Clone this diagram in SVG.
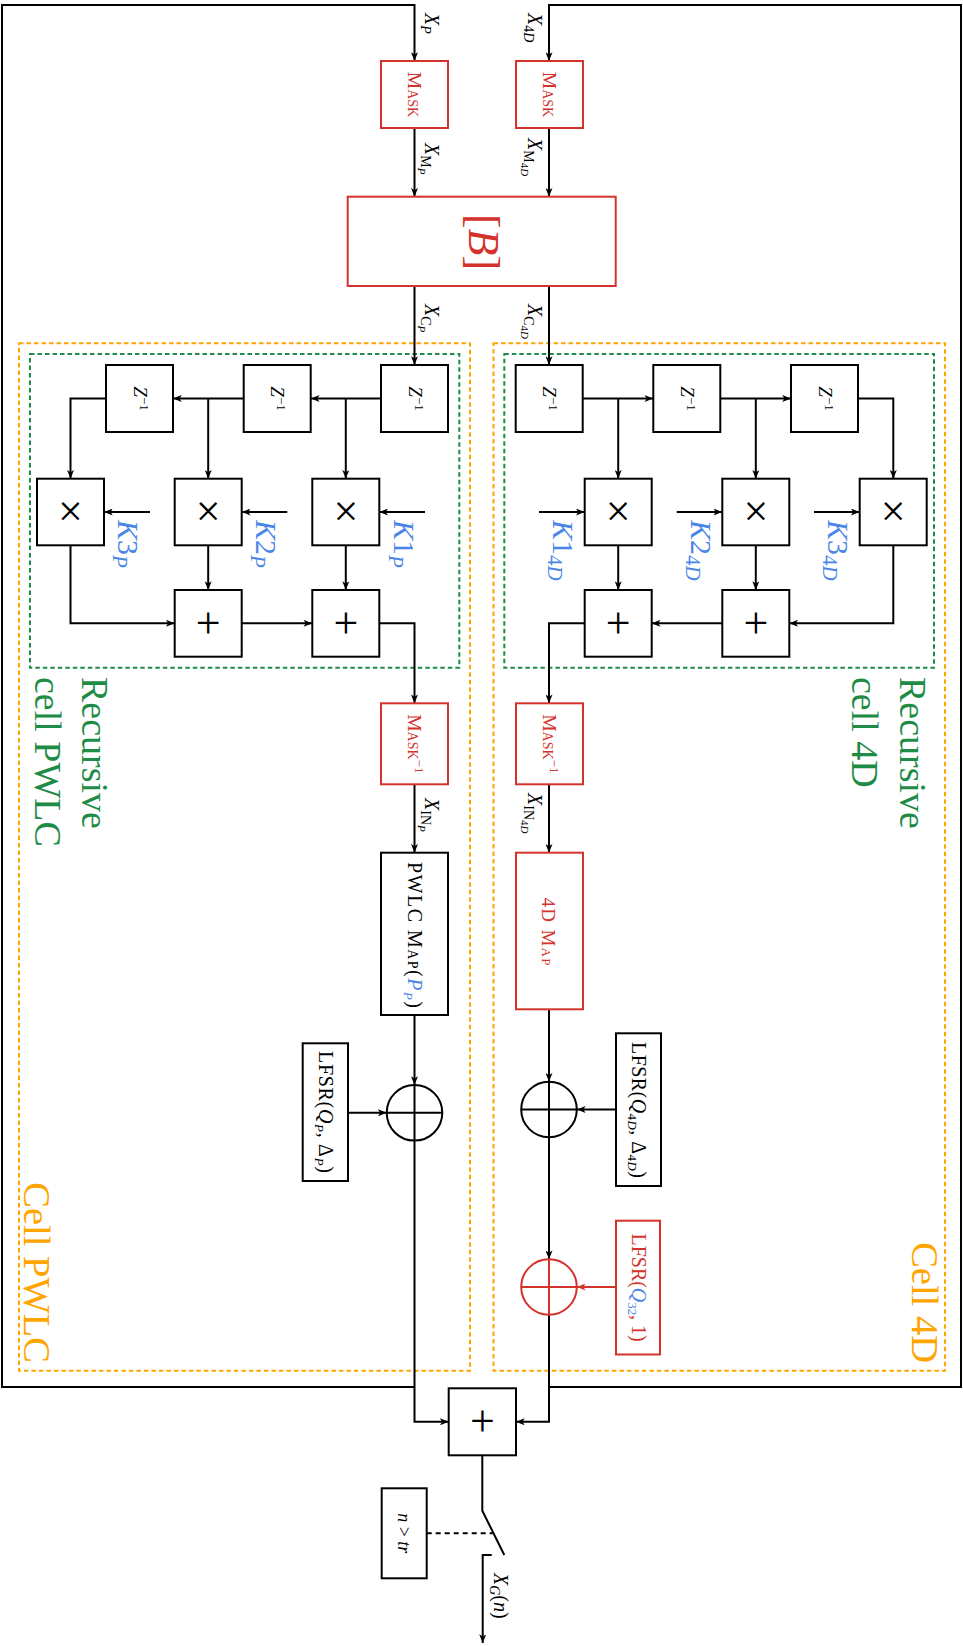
<svg xmlns="http://www.w3.org/2000/svg" width="963" height="1646" viewBox="0 0 963 1646">
<defs>
<marker id="a" viewBox="0 0 10 8" refX="10" refY="4" markerWidth="9" markerHeight="7" orient="auto" markerUnits="userSpaceOnUse"><path d="M0,0 L10,4 L0,8 L2.5,4 z" fill="#000"/></marker>
<marker id="ar" viewBox="0 0 10 8" refX="10" refY="4" markerWidth="9" markerHeight="7" orient="auto" markerUnits="userSpaceOnUse"><path d="M0,0 L10,4 L0,8 L2.5,4 z" fill="#d4322c"/></marker>
</defs>
<style>
text{font-family:"Liberation Serif","Times New Roman",serif;fill:#000}
.bx{fill:#fff;stroke:#000;stroke-width:2}
.rb{fill:#fff;stroke:#d4322c;stroke-width:2}
.ln{fill:none;stroke:#000;stroke-width:2}
.la{fill:none;stroke:#000;stroke-width:2;marker-end:url(#a)}
.lr{fill:none;stroke:#d4322c;stroke-width:2;marker-end:url(#ar)}
.od{fill:none;stroke:#ffa500;stroke-width:2;stroke-dasharray:4.5 3}
.gd{fill:none;stroke:#1e8c46;stroke-width:2;stroke-dasharray:4.5 3}
.it{font-style:italic}
.up{font-style:normal}
.sc{font-variant:small-caps}
.red{fill:#d4322c}
.blue{fill:#4a86e8}
.grn{fill:#1e8c46}
.org{fill:#ffa500}
.op{font-size:44px}
.xc{stroke:#000;stroke-width:2;fill:none}
.xr{stroke:#d4322c;stroke-width:2;fill:none}
.lb{font-size:20px;font-style:italic}
</style>

<g id="cell-pwlc-frame">
<rect class="od" x="19" y="343.3" width="451" height="1027.4"/>
<text class="org" font-size="38.5" text-anchor="end" transform="translate(24,1363) rotate(90)">Cell PWLC</text>
</g>
<g id="cell-4d-frame">
<rect class="od" x="493.5" y="343.3" width="451.5" height="1027.4"/>
<text class="org" font-size="38.5" text-anchor="end" transform="translate(912,1363) rotate(90)">Cell 4D</text>
</g>
<g id="recursive-pwlc-frame">
<rect class="gd" x="30" y="354" width="429.3" height="313.7"/>
<text class="grn" font-size="38" transform="translate(82,677) rotate(90)">Recursive</text>
<text class="grn" font-size="38" transform="translate(35,677) rotate(90)">cell PWLC</text>
</g>
<g id="recursive-4d-frame">
<rect class="gd" x="504.3" y="354" width="429.7" height="313.7"/>
<text class="grn" font-size="38" transform="translate(900,677) rotate(90)">Recursive</text>
<text class="grn" font-size="38" transform="translate(852,677) rotate(90)">cell 4D</text>
</g>

<g id="connectors">
<path class="la" d="M414.5,1387 H2 V5 H414.5 V61"/>
<path class="la" d="M549,1387 H961 V5 H549 V61"/>
<path class="la" d="M414.5,128 V196.7"/>
<path class="la" d="M549,128 V196.7"/>
<path class="la" d="M414.5,286 V365"/>
<path class="la" d="M549,286 V365"/>
<path class="la" d="M381,398.5 H310.7"/>
<path class="la" d="M345.8,398.5 V478.7"/>
<path class="la" d="M243.7,398.5 H173"/>
<path class="la" d="M208.2,398.5 V478.7"/>
<path class="la" d="M106,398.5 H70.5 V478.7"/>
<path class="la" d="M150,512 H104"/>
<path class="la" d="M287.3,512 H241.7"/>
<path class="la" d="M425,512 H379.3"/>
<path class="la" d="M70.5,545.3 V623.3 H174.7"/>
<path class="la" d="M208.2,545.3 V590"/>
<path class="la" d="M345.8,545.3 V590"/>
<path class="la" d="M241.7,623.3 H312.3"/>
<path class="la" d="M379.3,623.3 H414.5 V703.3"/>
<path class="la" d="M582.7,398.5 H653.3"/>
<path class="la" d="M618.2,398.5 V478.7"/>
<path class="la" d="M720.3,398.5 H791"/>
<path class="la" d="M755.8,398.5 V478.7"/>
<path class="la" d="M858,398.5 H893.3 V478.7"/>
<path class="la" d="M539,512 H584.7"/>
<path class="la" d="M676.7,512 H722.3"/>
<path class="la" d="M814,512 H859.7"/>
<path class="la" d="M893.3,545.3 V623.3 H789.3"/>
<path class="la" d="M618.2,545.3 V590"/>
<path class="la" d="M755.8,545.3 V590"/>
<path class="la" d="M722.3,623.3 H651.7"/>
<path class="la" d="M584.7,623.3 H549 V703.3"/>
<path class="la" d="M414.5,784.3 V852.7"/>
<path class="la" d="M549,784.3 V852.7"/>
<path class="la" d="M414.5,1015 V1085"/>
<path class="la" d="M549,1009.3 V1081.7"/>
<path class="la" d="M348,1112.8 H386.7"/>
<path class="la" d="M616,1109.5 H576.8"/>
<path class="la" d="M549,1137.3 V1259.2"/>
<path class="lr" d="M616,1287 H576.8"/>
<path class="la" d="M414.5,1140.6 V1421.8 H448.7"/>
<path class="la" d="M549,1314.8 V1421.8 H516"/>
<path class="ln" d="M482.3,1455.3 V1510.7 L504.3,1555"/>
<path class="la" d="M491.7,1555 H482.7 V1643"/>
<path class="ln" d="M426.7,1533.3 H492.7" stroke-dasharray="5 4"/>
</g>

<g id="labels">
<text class="lb" transform="translate(425,13) rotate(90)">X<tspan font-size="14" dy="4">P</tspan></text>
<text class="lb" transform="translate(528,13) rotate(90)">X<tspan font-size="14" dy="4" class="up">4</tspan><tspan font-size="14">D</tspan></text>
<text class="lb" transform="translate(425,143) rotate(90)">X<tspan font-size="14" dy="4" class="up">M</tspan><tspan font-size="11" dy="3">P</tspan></text>
<text class="lb" transform="translate(528,138) rotate(90)">X<tspan font-size="14" dy="4" class="up">M</tspan><tspan font-size="11" dy="3" class="up">4</tspan><tspan font-size="11">D</tspan></text>
<text class="lb" transform="translate(425,304) rotate(90)">X<tspan font-size="14" dy="4" class="up">C</tspan><tspan font-size="11" dy="3">P</tspan></text>
<text class="lb" transform="translate(528,304) rotate(90)">X<tspan font-size="14" dy="4" class="up">C</tspan><tspan font-size="11" dy="3" class="up">4</tspan><tspan font-size="11">D</tspan></text>
<text class="lb" transform="translate(425,798) rotate(90)">X<tspan font-size="14" dy="4" class="up">IN</tspan><tspan font-size="11" dy="3">P</tspan></text>
<text class="lb" transform="translate(528,793) rotate(90)">X<tspan font-size="14" dy="4" class="up">IN</tspan><tspan font-size="11" dy="3" class="up">4</tspan><tspan font-size="11">D</tspan></text>
<text class="lb" transform="translate(494,1573) rotate(90)">X<tspan font-size="14" dy="4">G</tspan><tspan dy="-4" class="up">(</tspan>n<tspan class="up">)</tspan></text>
</g>

<g id="mask-p"><rect class="rb" x="381" y="61" width="67" height="67"/>
<text class="red sc" font-size="19.5" text-anchor="middle" transform="translate(408,94.5) rotate(90)">Mask</text></g>
<g id="mask-4d"><rect class="rb" x="516" y="61" width="67" height="67"/>
<text class="red sc" font-size="19.5" text-anchor="middle" transform="translate(543,94.5) rotate(90)">Mask</text></g>

<g id="matrix-b"><rect class="rb" x="347.7" y="196.7" width="268" height="89.3"/>
<text class="red" font-size="44" text-anchor="middle" transform="translate(469,242) rotate(90)">[<tspan class="it">B</tspan>]</text></g>

<g id="zp1"><rect class="bx" x="381" y="365" width="67" height="67"/><text text-anchor="middle" transform="translate(408.5,398.5) rotate(90)"><tspan class="it" font-size="19">Z</tspan><tspan font-size="13" dy="-6">−1</tspan></text></g>
<g id="zp2"><rect class="bx" x="243.7" y="365" width="67" height="67"/><text text-anchor="middle" transform="translate(271.2,398.5) rotate(90)"><tspan class="it" font-size="19">Z</tspan><tspan font-size="13" dy="-6">−1</tspan></text></g>
<g id="zp3"><rect class="bx" x="106" y="365" width="67" height="67"/><text text-anchor="middle" transform="translate(133.5,398.5) rotate(90)"><tspan class="it" font-size="19">Z</tspan><tspan font-size="13" dy="-6">−1</tspan></text></g>
<g id="mp1"><rect class="bx" x="312.3" y="478.7" width="67" height="66.6"/><text class="op" text-anchor="middle" x="345.8" y="526">×</text></g>
<g id="mp2"><rect class="bx" x="174.7" y="478.7" width="67" height="66.6"/><text class="op" text-anchor="middle" x="208.2" y="526">×</text></g>
<g id="mp3"><rect class="bx" x="37" y="478.7" width="67" height="66.6"/><text class="op" text-anchor="middle" x="70.5" y="526">×</text></g>
<g id="ap1"><rect class="bx" x="312.3" y="590" width="67" height="66.7"/><text class="op" text-anchor="middle" x="345.8" y="637.5">+</text></g>
<g id="ap2"><rect class="bx" x="174.7" y="590" width="67" height="66.7"/><text class="op" text-anchor="middle" x="208.2" y="637.5">+</text></g>
<g id="k-labels-p">
<text class="blue it" font-size="30" transform="translate(118,520) rotate(90)">K<tspan class="up">3</tspan><tspan font-size="21" dy="5">P</tspan></text>
<text class="blue it" font-size="30" transform="translate(256,520) rotate(90)">K<tspan class="up">2</tspan><tspan font-size="21" dy="5">P</tspan></text>
<text class="blue it" font-size="30" transform="translate(394,520) rotate(90)">K<tspan class="up">1</tspan><tspan font-size="21" dy="5">P</tspan></text>
</g>

<g id="zd1"><rect class="bx" x="515.7" y="365" width="67" height="67"/><text text-anchor="middle" transform="translate(543.2,398.5) rotate(90)"><tspan class="it" font-size="19">Z</tspan><tspan font-size="13" dy="-6">−1</tspan></text></g>
<g id="zd2"><rect class="bx" x="653.3" y="365" width="67" height="67"/><text text-anchor="middle" transform="translate(680.8,398.5) rotate(90)"><tspan class="it" font-size="19">Z</tspan><tspan font-size="13" dy="-6">−1</tspan></text></g>
<g id="zd3"><rect class="bx" x="791" y="365" width="67" height="67"/><text text-anchor="middle" transform="translate(818.5,398.5) rotate(90)"><tspan class="it" font-size="19">Z</tspan><tspan font-size="13" dy="-6">−1</tspan></text></g>
<g id="md1"><rect class="bx" x="584.7" y="478.7" width="67" height="66.6"/><text class="op" text-anchor="middle" x="618.2" y="526">×</text></g>
<g id="md2"><rect class="bx" x="722.3" y="478.7" width="67" height="66.6"/><text class="op" text-anchor="middle" x="755.8" y="526">×</text></g>
<g id="md3"><rect class="bx" x="859.7" y="478.7" width="67" height="66.6"/><text class="op" text-anchor="middle" x="893.2" y="526">×</text></g>
<g id="ad1"><rect class="bx" x="584.7" y="590" width="67" height="66.7"/><text class="op" text-anchor="middle" x="618.2" y="637.5">+</text></g>
<g id="ad2"><rect class="bx" x="722.3" y="590" width="67" height="66.7"/><text class="op" text-anchor="middle" x="755.8" y="637.5">+</text></g>
<g id="k-labels-4d">
<text class="blue it" font-size="30" transform="translate(553,520) rotate(90)">K<tspan class="up">1</tspan><tspan font-size="21" dy="5" class="up">4</tspan><tspan font-size="21">D</tspan></text>
<text class="blue it" font-size="30" transform="translate(691,520) rotate(90)">K<tspan class="up">2</tspan><tspan font-size="21" dy="5" class="up">4</tspan><tspan font-size="21">D</tspan></text>
<text class="blue it" font-size="30" transform="translate(828,520) rotate(90)">K<tspan class="up">3</tspan><tspan font-size="21" dy="5" class="up">4</tspan><tspan font-size="21">D</tspan></text>
</g>

<g id="mask-inv-p"><rect class="rb" x="381" y="703.3" width="67" height="81"/>
<text class="red" font-size="19.5" text-anchor="middle" transform="translate(407.5,743.8) rotate(90)"><tspan class="sc">Mask</tspan><tspan font-size="13" dy="-7">−1</tspan></text></g>
<g id="mask-inv-4d"><rect class="rb" x="516" y="703.3" width="67" height="81"/>
<text class="red" font-size="19.5" text-anchor="middle" transform="translate(542.5,743.8) rotate(90)"><tspan class="sc">Mask</tspan><tspan font-size="13" dy="-7">−1</tspan></text></g>

<g id="pwlc-map"><rect class="bx" x="381" y="852.7" width="67" height="162.3"/>
<text font-size="20" text-anchor="middle" textLength="146" transform="translate(407.5,935) rotate(90)">PWLC <tspan class="sc">Map</tspan>(<tspan class="blue it">P</tspan><tspan class="blue it" font-size="13" dy="4">P</tspan><tspan dy="-4">)</tspan></text></g>
<g id="map-4d"><rect class="rb" x="516" y="852.7" width="67" height="156.6"/>
<text class="red" font-size="19" text-anchor="middle" textLength="68" transform="translate(542,931.5) rotate(90)">4D <tspan class="sc">Map</tspan></text></g>

<g id="xor-p"><circle class="xc" cx="414.5" cy="1112.8" r="27.8"/><path class="xc" d="M386.7,1112.8 H442.3 M414.5,1085 V1140.6"/></g>
<g id="xor-4d"><circle class="xc" cx="549" cy="1109.5" r="27.8"/><path class="xc" d="M521.2,1109.5 H576.8 M549,1081.7 V1137.3"/></g>
<g id="xor-32"><circle class="xr" cx="549" cy="1287" r="27.8"/><path class="xr" d="M521.2,1287 H576.8 M549,1259.2 V1314.8"/></g>

<g id="lfsr-p"><rect class="bx" x="302.7" y="1043.3" width="45.3" height="137.7"/>
<text font-size="20" text-anchor="middle" textLength="122" transform="translate(319,1112) rotate(90)">LFSR(<tspan class="it">Q</tspan><tspan class="it" font-size="13" dy="4">P</tspan><tspan dy="-4">, Δ</tspan><tspan class="it" font-size="13" dy="4">P</tspan><tspan dy="-4">)</tspan></text></g>
<g id="lfsr-4d"><rect class="bx" x="616" y="1033.3" width="45" height="152.7"/>
<text font-size="20" text-anchor="middle" textLength="136" transform="translate(632,1110) rotate(90)">LFSR(<tspan class="it">Q</tspan><tspan font-size="13" dy="4">4<tspan class="it">D</tspan></tspan><tspan dy="-4">, Δ</tspan><tspan font-size="13" dy="4">4<tspan class="it">D</tspan></tspan><tspan dy="-4">)</tspan></text></g>
<g id="lfsr-32"><rect class="rb" x="616" y="1220.7" width="44" height="133.8"/>
<text class="red" font-size="20" text-anchor="middle" textLength="108" transform="translate(632,1287.6) rotate(90)">LFSR(<tspan class="blue it">Q</tspan><tspan class="blue" font-size="13" dy="4">32</tspan><tspan dy="-4">, 1)</tspan></text></g>

<g id="final-adder"><rect class="bx" x="448.7" y="1388.3" width="67.3" height="67"/><text class="op" text-anchor="middle" x="482.3" y="1436">+</text></g>
<g id="threshold"><rect class="bx" x="381.7" y="1488.3" width="45" height="90"/>
<text font-size="18" text-anchor="middle" transform="translate(398,1533.3) rotate(90)"><tspan class="it">n</tspan> &gt; <tspan class="it">tr</tspan></text></g>
</svg>
